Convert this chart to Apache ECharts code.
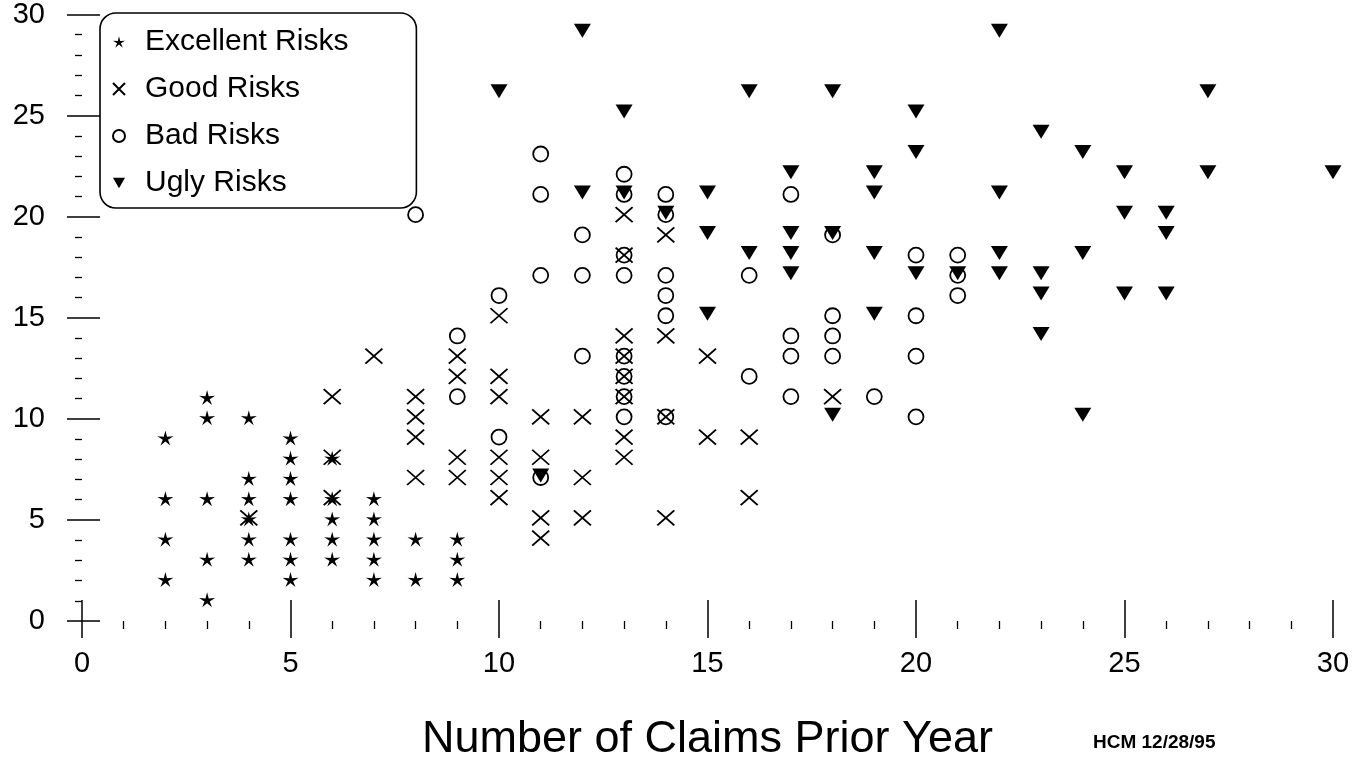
<!DOCTYPE html>
<html>
<head>
<meta charset="utf-8">
<script src="https://cdn.jsdelivr.net/npm/echarts@6/dist/echarts.min.js"></script>
<style>
  html, body { margin: 0; padding: 0; background: #fff; }
  #chart { width: 1357px; height: 767px; }
</style>
</head>
<body>
<div id="chart"></div>
<script>
// ---- Data (x = number of claims prior year, y = value) ----
const seriesNames = ['Excellent Risks', 'Good Risks', 'Bad Risks', 'Ugly Risks'];

const excellentRisks = [
  [2, 9], [2, 6], [2, 4], [2, 2],
  [3, 11], [3, 10], [3, 6], [3, 3], [3, 1],
  [4, 10], [4, 7], [4, 6], [4, 5], [4, 4], [4, 3],
  [5, 9], [5, 8], [5, 7], [5, 6], [5, 4], [5, 3], [5, 2],
  [6, 8], [6, 6], [6, 5], [6, 4], [6, 3],
  [7, 6], [7, 5], [7, 4], [7, 3], [7, 2],
  [8, 4], [8, 2],
  [9, 4], [9, 3], [9, 2]
];

const goodRisks = [
  [4, 5],
  [6, 11], [6, 8], [6, 6],
  [7, 13],
  [8, 11], [8, 10], [8, 9], [8, 7],
  [9, 13], [9, 12], [9, 8], [9, 7],
  [10, 15], [10, 12], [10, 11], [10, 8], [10, 7], [10, 6],
  [11, 10], [11, 8], [11, 5], [11, 4],
  [12, 10], [12, 7], [12, 5],
  [13, 20], [13, 18], [13, 14], [13, 13], [13, 12], [13, 11], [13, 9], [13, 8],
  [14, 19], [14, 14], [14, 10], [14, 5],
  [15, 13], [15, 9],
  [16, 9], [16, 6],
  [18, 11]
];

const badRisks = [
  [8, 20],
  [9, 14], [9, 11],
  [10, 16], [10, 9],
  [11, 23], [11, 21], [11, 17], [11, 7],
  [12, 19], [12, 17], [12, 13],
  [13, 22], [13, 21], [13, 18], [13, 17], [13, 13], [13, 12], [13, 11], [13, 10],
  [14, 21], [14, 20], [14, 17], [14, 16], [14, 15], [14, 10],
  [16, 17], [16, 12],
  [17, 21], [17, 14], [17, 13], [17, 11],
  [18, 19], [18, 15], [18, 14], [18, 13],
  [19, 11],
  [20, 18], [20, 15], [20, 13], [20, 10],
  [21, 18], [21, 17], [21, 16]
];

const uglyRisks = [
  [10, 26],
  [11, 7],
  [12, 29], [12, 21],
  [13, 25], [13, 21],
  [14, 20],
  [15, 21], [15, 19], [15, 15],
  [16, 26], [16, 18],
  [17, 22], [17, 19], [17, 18], [17, 17],
  [18, 26], [18, 19], [18, 10],
  [19, 22], [19, 21], [19, 18], [19, 15],
  [20, 25], [20, 23], [20, 17],
  [21, 17],
  [22, 29], [22, 21], [22, 18], [22, 17],
  [23, 24], [23, 17], [23, 16], [23, 14],
  [24, 23], [24, 18], [24, 10],
  [25, 22], [25, 20], [25, 16],
  [26, 20], [26, 19], [26, 16],
  [27, 26], [27, 22],
  [30, 22]
];

const xTickLabels = ['0', '5', '10', '15', '20', '25', '30'];
const yTickLabels = ['0', '5', '10', '15', '20', '25', '30'];
const xAxisTitle = 'Number of Claims Prior Year';
const footnote = 'HCM 12/28/95';

// ---- Symbols ----
const STAR = 'path://M0,-10L1.9,-2.6L9.511,-3.09L3.1,1.0L5.878,8.09L0,3.2L-5.878,8.09L-3.1,1.0L-9.511,-3.09L-1.9,-2.6Z';
const CROSS = 'path://M0,0L10,10M10,0L0,10';
const TRI_DOWN = 'path://M0,0L10,0L5,8.8Z';

const FONT = "'Liberation Sans', Arial, sans-serif";

const chart = echarts.init(document.getElementById('chart'), null, { renderer: 'canvas' });

function tickLabel(list) {
  return function (v) {
    const s = String(Math.round(v));
    return list.indexOf(s) >= 0 ? s : '';
  };
}

const option = {
  backgroundColor: '#ffffff',
  animation: false,
  title: {
    text: footnote,
    left: 1093,
    top: 733,
    textStyle: { fontFamily: FONT, fontSize: 19, fontWeight: 'bold', color: '#000' },
    padding: 0
  },
  legend: {
    orient: 'vertical',
    left: 100,
    top: 13,
    padding: [14, 68, 10, 12],
    itemGap: 17,
    itemWidth: 12,
    itemHeight: 12,
    borderColor: '#000',
    borderWidth: 1.6,
    borderRadius: 16,
    backgroundColor: '#fff',
    data: seriesNames,
    selectedMode: false,
    textStyle: { fontFamily: FONT, fontSize: 30, color: '#000', lineHeight: 30, padding: [0, 0, 0, 15] }
  },
  grid: { left: 82, right: 24, top: 14, bottom: 145, containLabel: false },
  xAxis: [
    {
      type: 'value', min: 0, max: 30, interval: 5,
      position: 'bottom',
      axisLine: { show: false },
      axisTick: { show: true, inside: false, length: 17, lineStyle: { color: '#000', width: 1.5 } },
      minorTick: { show: true, splitNumber: 5, length: 8, lineStyle: { color: '#000', width: 1.3 } },
      splitLine: { show: false },
      axisLabel: { margin: 28, fontFamily: FONT, fontSize: 29, color: '#000', formatter: tickLabel(xTickLabels) },
      name: xAxisTitle,
      nameLocation: 'middle',
      nameGap: 96,
      nameTextStyle: { fontFamily: FONT, fontSize: 45, color: '#000' }
    },
    {
      type: 'value', min: 0, max: 30, interval: 5,
      position: 'bottom',
      axisLine: { show: false },
      axisTick: { show: true, inside: true, length: 21, lineStyle: { color: '#000', width: 1.5 } },
      axisLabel: { show: false },
      splitLine: { show: false }
    }
  ],
  yAxis: [
    {
      type: 'value', min: 0, max: 30, interval: 5,
      position: 'left',
      axisLine: { show: false },
      axisTick: { show: true, inside: false, length: 15, lineStyle: { color: '#000', width: 1.5 } },
      minorTick: { show: true, splitNumber: 5, length: 7, lineStyle: { color: '#000', width: 1.3 } },
      splitLine: { show: false },
      axisLabel: { margin: 37, padding: [7, 0, 0, 0], fontFamily: FONT, fontSize: 29, color: '#000', formatter: tickLabel(yTickLabels) }
    },
    {
      type: 'value', min: 0, max: 30, interval: 5,
      position: 'left',
      axisLine: { show: false },
      axisTick: { show: true, inside: true, length: 18, lineStyle: { color: '#000', width: 1.5 } },
      axisLabel: { show: false },
      splitLine: { show: false }
    }
  ],
  series: [
    {
      name: seriesNames[0], type: 'scatter', data: excellentRisks,
      symbol: STAR, symbolSize: [16, 15], symbolOffset: [0, -1],
      itemStyle: { color: '#000', opacity: 1 }
    },
    {
      name: seriesNames[1], type: 'scatter', data: goodRisks,
      symbol: CROSS, symbolSize: [17, 15], symbolOffset: [0, -2],
      itemStyle: { color: 'rgba(0,0,0,0)', borderColor: '#000', borderWidth: 1.8, opacity: 1 }
    },
    {
      name: seriesNames[2], type: 'scatter', data: badRisks,
      symbol: 'circle', symbolSize: 15, symbolOffset: [0, -2],
      itemStyle: { color: 'rgba(0,0,0,0)', borderColor: '#000', borderWidth: 1.8, opacity: 1 }
    },
    {
      name: seriesNames[3], type: 'scatter', data: uglyRisks,
      symbol: TRI_DOWN, symbolSize: [17, 14], symbolOffset: [0, -4],
      itemStyle: { color: '#000', opacity: 1 }
    }
  ]
};

chart.setOption(option);
</script>
</body>
</html>
